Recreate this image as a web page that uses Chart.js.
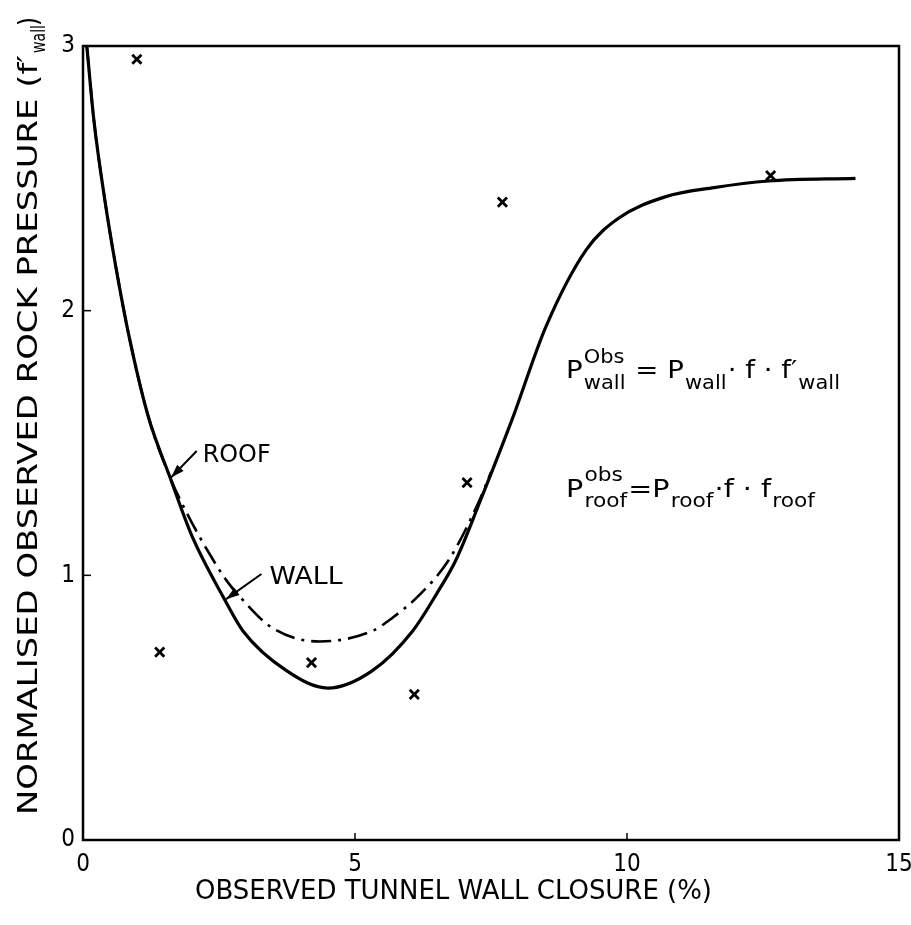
<!DOCTYPE html>
<html>
<head>
<meta charset="utf-8">
<script src="https://cdn.jsdelivr.net/npm/chart.js@4.4.1/dist/chart.umd.min.js"></script>
<style>
  body { margin: 0; background: #fff; }
  #wrap { width: 911px; height: 925px; }
</style>
</head>
<body>
<div id="wrap"><canvas id="chart" width="911" height="925"></canvas></div>
<script>
// values
const roofX = [0.07, 0.2, 0.4, 0.6, 0.85, 1.2, 1.6, 2.0, 2.6, 2.94, 3.74, 4.5, 5.32, 6.06, 6.5, 6.86, 7.3, 7.89, 8.51, 9.25, 9.85, 10.7, 11.6, 12.6, 14.2];
const roofY = [3.0, 2.72, 2.42, 2.17, 1.9, 1.6, 1.37, 1.15, 0.91, 0.79, 0.64, 0.574, 0.64, 0.79, 0.93, 1.06, 1.28, 1.59, 1.94, 2.23, 2.35, 2.43, 2.465, 2.49, 2.5];
const wallX = [0.07, 0.2, 0.4, 0.6, 0.85, 1.2, 1.6, 1.91, 2.3, 2.64, 2.88, 3.49, 4.35, 5.32, 5.69, 6.18, 6.73, 7.28, 7.5];
const wallY = [3.0, 2.72, 2.42, 2.17, 1.9, 1.6, 1.37, 1.235, 1.09, 0.98, 0.92, 0.8, 0.75, 0.79, 0.84, 0.925, 1.06, 1.28, 1.39];
const obsX = [0.99, 1.41, 4.2, 6.09, 7.06, 7.71, 12.64];
const obsY = [2.95, 0.71, 0.67, 0.55, 1.35, 2.41, 2.51];
const xTicks = [0, 5, 10, 15];
const yTicks = [0, 1, 2, 3];

const FONT = '"DejaVu Sans", "Liberation Sans", sans-serif';
const TICKFONT = '"DejaVu Sans Condensed", "Liberation Sans Narrow", "DejaVu Sans", sans-serif';

function toPts(xs, ys) {
    return xs.map((v, i) => ({ x: v, y: ys[i] }));
}

// draw text squeezed/stretched to a given width
function fitText(ctx, txt, x, y, w, size) {
    ctx.font = size + 'px ' + FONT;
    const m = ctx.measureText(txt).width;
    ctx.save();
    ctx.translate(x, y);
    ctx.scale(w / m, 1);
    ctx.fillText(txt, 0, 0);
    ctx.restore();
}

// runs of text with optional super/subscripts, scaled to width w
function drawEq(ctx, x, y, w, parts, big, small) {
    let total = 0;
    const widths = parts.map(p => {
        ctx.font = big + 'px ' + FONT;
        const a = ctx.measureText(p.t).width;
        ctx.font = small + 'px ' + FONT;
        const b = Math.max(p.sup ? ctx.measureText(p.sup).width : 0, p.sub ? ctx.measureText(p.sub).width : 0);
        total += a + b + 2;
        return [a, b];
    });
    ctx.save();
    ctx.translate(x, y);
    ctx.scale(w / total, 1);
    let cx = 0;
    parts.forEach((p, i) => {
        ctx.font = big + 'px ' + FONT;
        ctx.fillText(p.t, cx, 0);
        cx += widths[i][0] + 1;
        ctx.font = small + 'px ' + FONT;
        if (p.sup) ctx.fillText(p.sup, cx, -big * 0.62);
        if (p.sub) ctx.fillText(p.sub, cx, big * 0.42);
        cx += widths[i][1] + 1;
    });
    ctx.restore();
}

function arrow(ctx, x1, y1, x2, y2) {
    ctx.beginPath();
    ctx.moveTo(x1, y1);
    ctx.lineTo(x2, y2);
    ctx.stroke();
    const ang = Math.atan2(y2 - y1, x2 - x1);
    ctx.beginPath();
    ctx.moveTo(x2, y2);
    ctx.lineTo(x2 - 14 * Math.cos(ang - 0.32), y2 - 14 * Math.sin(ang - 0.32));
    ctx.lineTo(x2 - 14 * Math.cos(ang + 0.32), y2 - 14 * Math.sin(ang + 0.32));
    ctx.closePath();
    ctx.fill();
}

const decor = {
    id: 'decor',
    afterDraw(chart) {
        const { ctx, chartArea: a, scales: { x, y } } = chart;
        ctx.save();
        ctx.strokeStyle = '#000';
        ctx.fillStyle = '#000';
        ctx.lineWidth = 2.5;
        ctx.strokeRect(a.left, a.top, a.right - a.left, a.bottom - a.top);

        // small inward ticks
        ctx.lineWidth = 1.5;
        [5, 10].forEach(v => {
            const px = x.getPixelForValue(v);
            ctx.beginPath(); ctx.moveTo(px, a.bottom); ctx.lineTo(px, a.bottom - 7); ctx.stroke();
        });
        [1, 2].forEach(v => {
            const py = y.getPixelForValue(v);
            ctx.beginPath(); ctx.moveTo(a.left, py); ctx.lineTo(a.left + 8, py); ctx.stroke();
        });

        // curve labels
        ctx.lineWidth = 2;
        arrow(ctx, x.getPixelForValue(2.09), y.getPixelForValue(1.47), x.getPixelForValue(1.62), y.getPixelForValue(1.37));
        arrow(ctx, x.getPixelForValue(3.28), y.getPixelForValue(1.005), x.getPixelForValue(2.63), y.getPixelForValue(0.91));
        ctx.textBaseline = 'alphabetic';
        fitText(ctx, 'ROOF', x.getPixelForValue(2.2), y.getPixelForValue(1.465) + 10, 68, 25);
        fitText(ctx, 'WALL', x.getPixelForValue(3.43), y.getPixelForValue(1.005) + 10, 73, 25);

        // formulas
        drawEq(ctx, x.getPixelForValue(8.88), y.getPixelForValue(1.745), 275, [
            { t: 'P', sup: 'Obs', sub: 'wall' },
            { t: ' = P', sub: 'wall' },
            { t: '\u00b7 f \u00b7 f\u2032', sub: 'wall' }
        ], 25, 19);
        drawEq(ctx, x.getPixelForValue(8.88), y.getPixelForValue(1.296), 250, [
            { t: 'P', sup: 'obs', sub: 'roof' },
            { t: '=P', sub: 'roof' },
            { t: '\u00b7f \u00b7 f', sub: 'roof' }
        ], 25, 19);

        // axis titles
        fitText(ctx, 'OBSERVED TUNNEL WALL CLOSURE (%)', 195, 899, 517, 26);

        ctx.save();
        ctx.translate(37, 815);
        ctx.rotate(-Math.PI / 2);
        fitText(ctx, 'NORMALISED OBSERVED ROCK PRESSURE (f\u2032', 0, 0, 760, 27);
        fitText(ctx, 'wall', 762, 8, 28, 19);
        fitText(ctx, ')', 789, 0, 9, 27);
        ctx.restore();

        ctx.restore();
    }
};

new Chart(document.getElementById('chart'), {
    type: 'scatter',
    data: {
        datasets: [
            {
                label: 'ROOF',
                type: 'line',
                data: toPts(roofX, roofY),
                borderColor: '#000',
                borderWidth: 3.2,
                pointRadius: 0,
                cubicInterpolationMode: 'monotone',
                fill: false
            },
            {
                label: 'WALL',
                type: 'line',
                data: toPts(wallX, wallY),
                borderColor: '#000',
                borderWidth: 2.6,
                borderDash: [20, 7, 3, 7],
                pointRadius: 0,
                cubicInterpolationMode: 'monotone',
                fill: false
            },
            {
                label: 'Observed',
                data: toPts(obsX, obsY),
                pointStyle: 'crossRot',
                pointRadius: 6.5,
                borderColor: '#000',
                borderWidth: 2.8
            }
        ]
    },
    options: {
        responsive: false,
        animation: false,
        devicePixelRatio: 1,
        layout: { padding: { left: 0, right: 12, top: 46, bottom: 0 } },
        plugins: { legend: { display: false }, tooltip: { enabled: false } },
        scales: {
            x: {
                type: 'linear',
                min: 0,
                max: 15,
                afterBuildTicks: s => { s.ticks = xTicks.map(v => ({ value: v })); },
                afterFit: s => { s.height = 85; s.paddingLeft = 0; s.paddingRight = 0; },
                grid: { display: false, drawTicks: false },
                border: { display: false },
                ticks: { color: '#000', padding: 10, font: { family: TICKFONT, size: 24 } }
            },
            y: {
                type: 'linear',
                min: 0,
                max: 3,
                afterBuildTicks: s => { s.ticks = yTicks.map(v => ({ value: v })); },
                afterFit: s => { s.width = 83; s.paddingTop = 0; s.paddingBottom = 0; },
                grid: { display: false, drawTicks: false },
                border: { display: false },
                ticks: { color: '#000', padding: 8, font: { family: TICKFONT, size: 24 } }
            }
        }
    },
    plugins: [decor]
});
</script>
</body>
</html>
